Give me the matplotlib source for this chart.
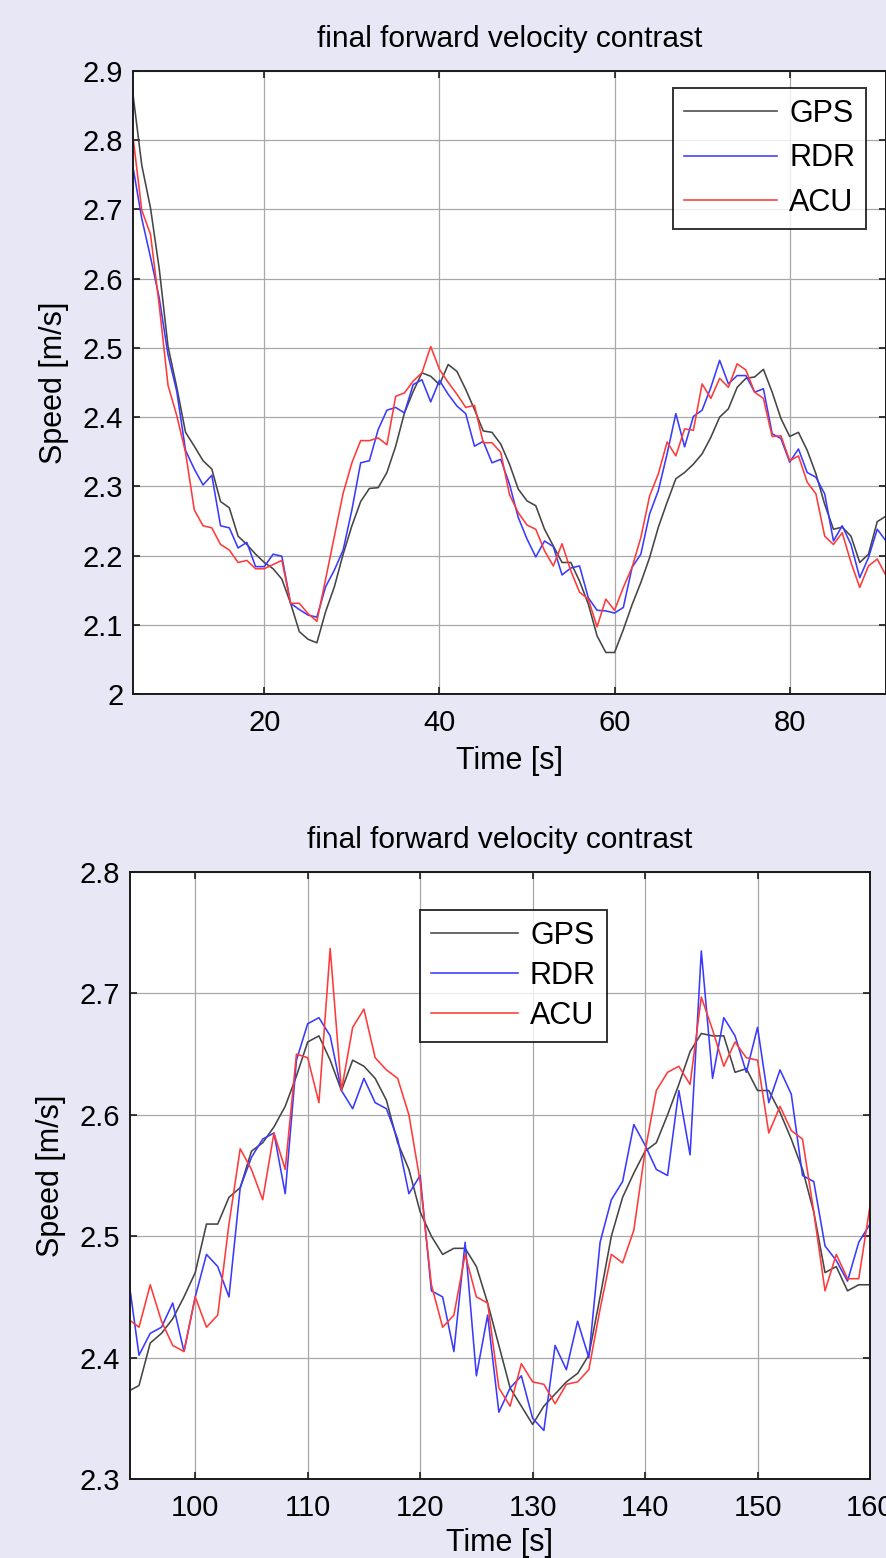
import numpy as np
import matplotlib
matplotlib.use('Agg')
import matplotlib.pyplot as plt

plt.rcParams['font.family'] = ['Liberation Sans', 'DejaVu Sans']

# ---- data: 1 Hz samples ----
t_top = np.arange(5, 92)
gps_top = [2.866, 2.764, 2.702, 2.614, 2.502, 2.443, 2.378, 2.358, 2.337, 2.325,
           2.278, 2.269, 2.228, 2.216, 2.202, 2.190, 2.181, 2.166, 2.131, 2.090,
           2.079, 2.074, 2.119, 2.155, 2.202, 2.243, 2.278, 2.297, 2.298, 2.320,
           2.358, 2.406, 2.437, 2.464, 2.459, 2.447, 2.476, 2.466, 2.440, 2.411,
           2.380, 2.378, 2.361, 2.332, 2.296, 2.279, 2.272, 2.238, 2.214, 2.190,
           2.190, 2.163, 2.130, 2.084, 2.060, 2.060, 2.093, 2.129, 2.161, 2.197,
           2.241, 2.277, 2.311, 2.320, 2.332, 2.347, 2.371, 2.400, 2.412, 2.443,
           2.456, 2.458, 2.469, 2.436, 2.398, 2.372, 2.378, 2.352, 2.318, 2.274,
           2.238, 2.241, 2.228, 2.190, 2.202, 2.249, 2.257]
rdr_top = [2.761, 2.687, 2.631, 2.572, 2.490, 2.437, 2.352, 2.325, 2.302, 2.316,
           2.243, 2.240, 2.211, 2.219, 2.184, 2.184, 2.202, 2.199, 2.131, 2.122,
           2.114, 2.111, 2.155, 2.179, 2.208, 2.266, 2.334, 2.337, 2.382, 2.410,
           2.414, 2.406, 2.447, 2.454, 2.422, 2.453, 2.433, 2.416, 2.405, 2.358,
           2.365, 2.334, 2.339, 2.303, 2.255, 2.224, 2.198, 2.221, 2.213, 2.172,
           2.182, 2.185, 2.139, 2.121, 2.120, 2.117, 2.125, 2.183, 2.202, 2.260,
           2.294, 2.347, 2.405, 2.357, 2.401, 2.410, 2.443, 2.482, 2.448, 2.460,
           2.460, 2.436, 2.441, 2.376, 2.369, 2.335, 2.354, 2.320, 2.313, 2.289,
           2.221, 2.243, 2.216, 2.168, 2.197, 2.238, 2.221]
acu_top = [2.805, 2.699, 2.664, 2.561, 2.446, 2.402, 2.349, 2.266, 2.243, 2.240,
           2.216, 2.208, 2.190, 2.193, 2.181, 2.181, 2.187, 2.193, 2.131, 2.131,
           2.116, 2.105, 2.166, 2.228, 2.290, 2.334, 2.366, 2.366, 2.370, 2.360,
           2.430, 2.435, 2.452, 2.464, 2.502, 2.469, 2.450, 2.433, 2.414, 2.417,
           2.363, 2.363, 2.349, 2.288, 2.262, 2.244, 2.238, 2.207, 2.185, 2.217,
           2.178, 2.147, 2.137, 2.097, 2.137, 2.121, 2.154, 2.183, 2.226, 2.286,
           2.318, 2.364, 2.344, 2.383, 2.381, 2.448, 2.427, 2.456, 2.443, 2.477,
           2.468, 2.436, 2.427, 2.372, 2.373, 2.337, 2.344, 2.306, 2.289, 2.228,
           2.216, 2.233, 2.190, 2.154, 2.185, 2.195, 2.171]

t_bot = np.arange(94, 161)
gps_bot = [2.372, 2.377, 2.412, 2.420, 2.432, 2.450, 2.470, 2.510, 2.510, 2.532,
           2.540, 2.570, 2.577, 2.590, 2.607, 2.632, 2.660, 2.665, 2.645, 2.620,
           2.645, 2.640, 2.630, 2.612, 2.577, 2.555, 2.520, 2.500, 2.485, 2.490,
           2.490, 2.475, 2.445, 2.410, 2.375, 2.360, 2.345, 2.360, 2.370, 2.380,
           2.387, 2.402, 2.450, 2.500, 2.532, 2.552, 2.570, 2.577, 2.600, 2.625,
           2.652, 2.667, 2.665, 2.665, 2.635, 2.638, 2.620, 2.620, 2.602, 2.580,
           2.555, 2.520, 2.470, 2.475, 2.455, 2.460, 2.460]
rdr_bot = [2.470, 2.402, 2.420, 2.425, 2.445, 2.405, 2.450, 2.485, 2.475, 2.450,
           2.540, 2.565, 2.580, 2.585, 2.535, 2.645, 2.675, 2.680, 2.665, 2.620,
           2.605, 2.630, 2.610, 2.605, 2.580, 2.535, 2.550, 2.455, 2.450, 2.405,
           2.495, 2.385, 2.435, 2.355, 2.375, 2.385, 2.350, 2.340, 2.410, 2.390,
           2.430, 2.400, 2.495, 2.530, 2.545, 2.592, 2.575, 2.555, 2.550, 2.620,
           2.567, 2.735, 2.630, 2.680, 2.665, 2.635, 2.672, 2.610, 2.637, 2.617,
           2.550, 2.545, 2.492, 2.480, 2.463, 2.495, 2.510]
acu_bot = [2.432, 2.425, 2.460, 2.430, 2.410, 2.405, 2.450, 2.425, 2.435, 2.510,
           2.572, 2.555, 2.530, 2.585, 2.555, 2.650, 2.647, 2.610, 2.737, 2.620,
           2.672, 2.687, 2.647, 2.637, 2.630, 2.600, 2.545, 2.460, 2.425, 2.435,
           2.485, 2.450, 2.445, 2.375, 2.360, 2.395, 2.380, 2.378, 2.362, 2.378,
           2.380, 2.390, 2.440, 2.485, 2.478, 2.505, 2.570, 2.620, 2.635, 2.640,
           2.625, 2.697, 2.670, 2.640, 2.660, 2.647, 2.645, 2.585, 2.607, 2.587,
           2.580, 2.520, 2.455, 2.485, 2.465, 2.465, 2.525]

series_names = ['GPS', 'RDR', 'ACU']
series_colors = ['#454545', '#3a3aff', '#ff3a3a']

W, H = 886, 1558
fig = plt.figure(figsize=(W / 100, H / 100), dpi=100)
fig.patch.set_facecolor('#e7e7f5')


def px_rect(left, top, right, bottom):
    return [left / W, 1 - bottom / H, (right - left) / W, (bottom - top) / H]


def style_axes(ax):
    ax.set_facecolor('white')
    for s in ax.spines.values():
        s.set_linewidth(1.4)
        s.set_color('#1a1a1a')
    ax.tick_params(direction='in', length=5, width=1.2, top=True, right=True,
                   labelsize=21, pad=11, colors='#1a1a1a', labelcolor='black')
    ax.tick_params(axis='y', pad=7)
    ax.grid(True, color='#a8a8a8', linewidth=0.9)
    ax.set_axisbelow(True)


def fmt(v, pos=None):
    s = f'{v:.1f}'
    return s[:-2] if s.endswith('.0') else s


def add_legend(ax, x, y, hl, ls):
    leg = ax.legend(loc='upper left', bbox_to_anchor=(x / W, 1 - y / H),
                    bbox_transform=fig.transFigure, fontsize=22, frameon=True,
                    fancybox=False, handlelength=hl, handletextpad=0.4,
                    labelspacing=ls, borderpad=0.35, borderaxespad=0)
    leg.get_frame().set_edgecolor('black')
    leg.get_frame().set_linewidth(1.4)
    return leg


# ---- top panel ----
ax1 = fig.add_axes(px_rect(133, 71, 886, 694))
for y, name, c in zip([gps_top, rdr_top, acu_top], series_names, series_colors):
    ax1.plot(t_top, y, color=c, lw=1.15, label=name)
ax1.set_xlim(5, 91)
ax1.set_ylim(2.0, 2.9)
ax1.set_xticks([20, 40, 60, 80])
ax1.set_yticks(np.round(np.arange(2.0, 2.91, 0.1), 1))
ax1.yaxis.set_major_formatter(plt.FuncFormatter(fmt))
style_axes(ax1)
ax1.set_title('final forward velocity contrast', fontsize=21.5, pad=17)
ax1.set_xlabel('Time [s]', fontsize=22, labelpad=6)
ax1.set_ylabel('Speed [m/s]', fontsize=22, labelpad=10)
add_legend(ax1, 673, 88, 3.05, 0.48)

# ---- bottom panel ----
ax2 = fig.add_axes(px_rect(130, 872, 870, 1479))
for y, name, c in zip([gps_bot, rdr_bot, acu_bot], series_names, series_colors):
    ax2.plot(t_bot, y, color=c, lw=1.15, label=name)
ax2.set_xlim(94.2, 160)
ax2.set_ylim(2.3, 2.8)
ax2.set_xticks(np.arange(100, 161, 10))
ax2.set_yticks(np.round(np.arange(2.3, 2.81, 0.1), 1))
ax2.yaxis.set_major_formatter(plt.FuncFormatter(fmt))
style_axes(ax2)
ax2.set_title('final forward velocity contrast', fontsize=21.5, pad=17)
ax2.set_xlabel('Time [s]', fontsize=22, labelpad=4)
ax2.set_ylabel('Speed [m/s]', fontsize=22, labelpad=10)
add_legend(ax2, 420, 910, 2.85, 0.33)

fig.savefig('out.png', dpi=100, facecolor=fig.get_facecolor())
